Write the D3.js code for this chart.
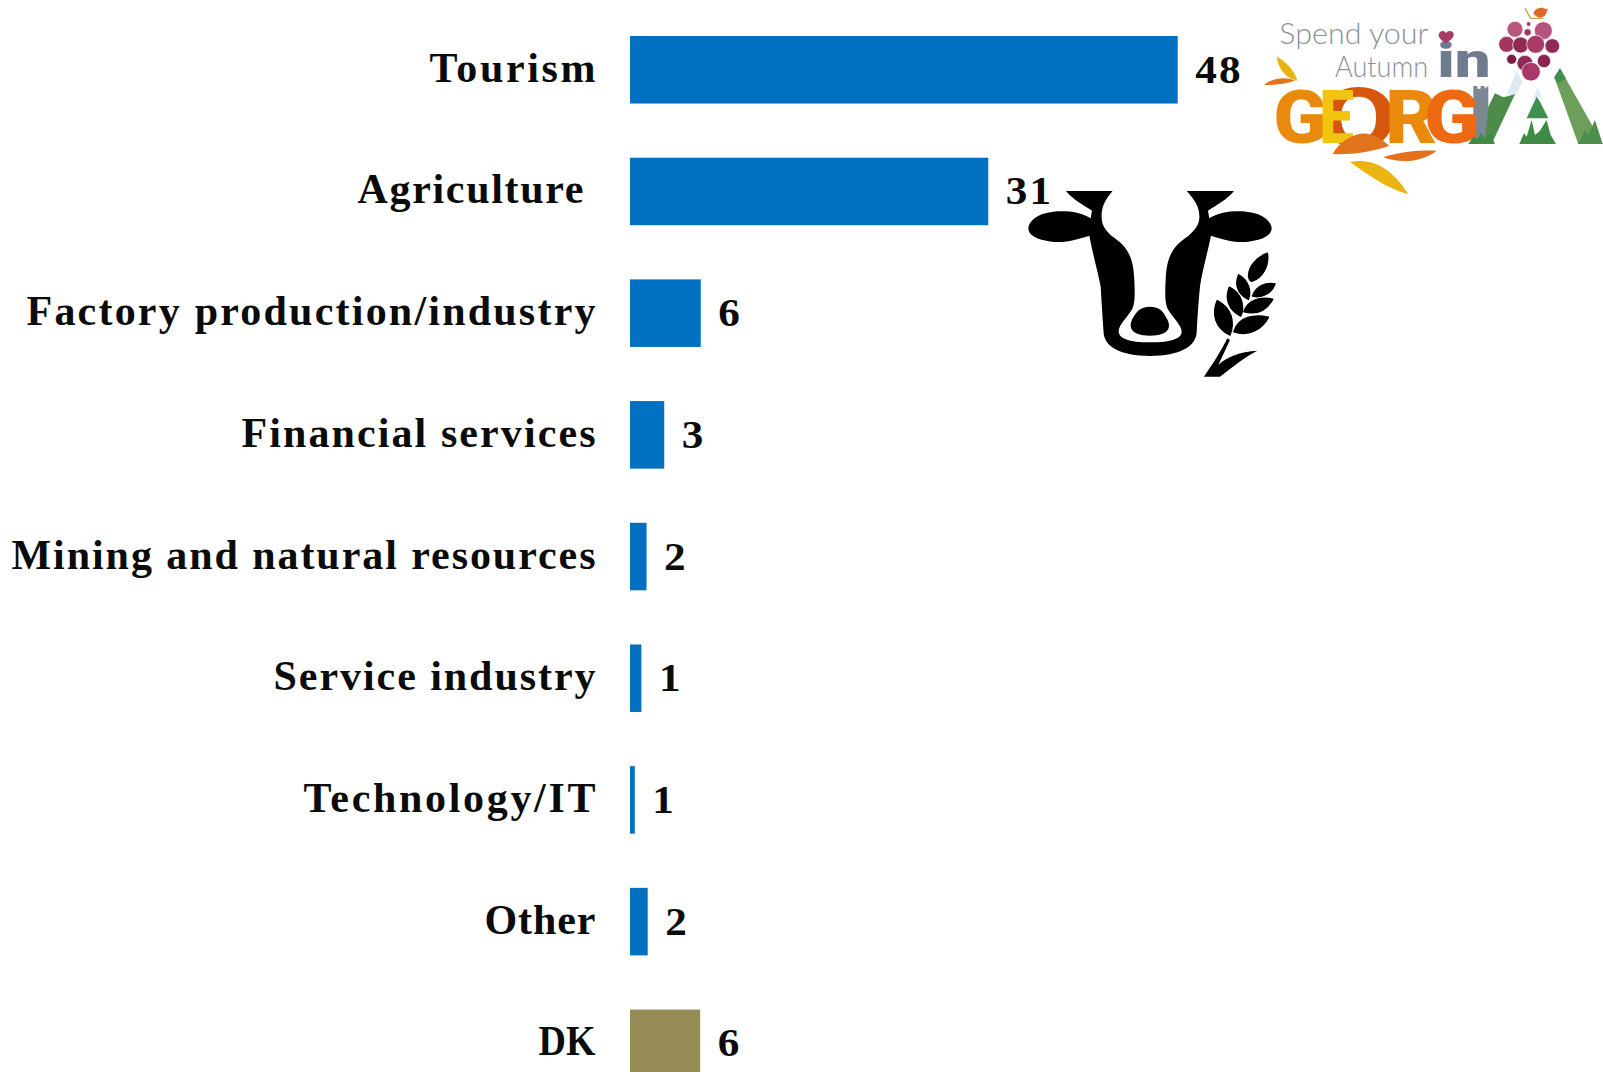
<!DOCTYPE html>
<html><head><meta charset="utf-8">
<style>html,body{margin:0;padding:0;background:#fff;overflow:hidden}svg{display:block}
.cat text,.val{font-family:"Liberation Serif",serif;font-weight:700;fill:#0b0b0b;font-size:40px;white-space:pre}
.cat text{font-size:42px}
.val{letter-spacing:2px}
</style>
<script src="https://cdn.jsdelivr.net/npm/d3@7/dist/d3.min.js"></script>
</head><body><svg id="c" width="1603" height="1072"></svg>
<script>
const categories=["Tourism","Agriculture ","Factory production/industry","Financial services","Mining and natural resources","Service industry","Technology/IT","Other","DK"];
const barValues=[48,31.4,6.2,3,1.45,1,0.42,1.55,6.15];
const valueLabels=["48","31","6","3","2","1","1","2","6"];
const barColors=["#0070c0","#0070c0","#0070c0","#0070c0","#0070c0","#0070c0","#0070c0","#0070c0","#958b55"];
const labelWidths=[166,238,569,354,584,322,292,111,57];

const svg=d3.select("#c");
const x=d3.scaleLinear().domain([0,48]).range([630,1177.7]);
const y=d3.scaleBand().domain(categories).range([36,36+8*121.7+67.5]).paddingInner(0.445).paddingOuter(0);

svg.selectAll("rect.bar").data(categories).join("rect").attr("class","bar")
 .attr("x",x(0)).attr("y",d=>y(d)).attr("height",y.bandwidth())
 .attr("width",(d,i)=>x(barValues[i])-x(0)).attr("fill",(d,i)=>barColors[i]);

const ax=svg.append("g").attr("class","cat").attr("transform","translate(595.5,0)")
 .call(d3.axisLeft(y).tickSize(0).tickPadding(0));
ax.select(".domain").remove();
ax.selectAll("text").attr("dy",null).attr("y",12).attr("x",0)
 .each(function(d,i){
   const natural=this.getComputedTextLength();
   d3.select(this).attr("textLength",labelWidths[i])
     .attr("lengthAdjust",natural>labelWidths[i]?"spacingAndGlyphs":"spacing");
 });

svg.selectAll("text.val").data(categories).join("text").attr("class","val")
 .attr("transform",(d,i)=>`translate(${x(barValues[i])+17.5},${y(d)+y.bandwidth()/2+13}) scale(1.08,1)`)
 .text((d,i)=>valueLabels[i]);

/* cow + wheat icon */
const cow=svg.append("g").attr("transform","translate(1000,170) scale(0.3333)");
cow.append("path").attr("fill","#000").attr("d","M198,63 L338,63 C315,90 303,112 305,145 C306,165 315,180 335,198 C375,225 400,250 403,330 C405,375 405,395 398,415 C385,440 355,465 356,485 C358,505 385,517 450,517 C515,517 545,505 545,485 C545,465 515,440 502,415 C495,395 495,375 497,330 C500,250 525,225 565,198 C585,180 597,165 598,145 C600,112 585,90 560,63 L702,63 C680,90 650,105 624,122 L628,145 C660,125 700,122 740,125 C790,130 815,155 815,175 C815,195 790,210 745,215 C700,220 660,205 633,197 C620,260 605,310 600,350 C595,400 592,450 590,490 C585,530 540,558 450,558 C360,558 315,530 311,490 C308,450 305,400 302,350 C295,310 280,260 268,197 C240,205 200,220 155,215 C110,210 85,195 85,175 C85,155 110,130 160,125 C200,122 240,125 272,145 L276,122 C250,105 220,90 198,63 Z");
cow.append("path").attr("fill","#000").attr("d","M450,410 C480,410 490,425 500,445 C515,470 510,497 450,497 C390,497 385,470 398,445 C410,425 420,410 450,410 Z");
["M802,250 C770,262 745,290 746,320 C748,330 752,335 757,333 C785,325 808,290 802,250Z",
 "M825,342 C795,337 768,350 758,378 C785,385 815,370 825,342Z",
 "M818,388 C780,380 745,390 732,425 C770,435 800,420 818,388Z",
 "M805,442 C765,432 715,440 702,485 C745,500 785,480 805,442Z",
 "M716,315 C705,340 710,370 745,388 C755,365 745,330 716,315Z",
 "M688,352 C675,385 685,420 722,438 C735,410 725,370 688,352Z",
 "M652,392 C635,430 645,475 690,495 C705,455 695,415 652,392Z"
].forEach(p=>cow.append("path").attr("fill","#000").attr("stroke","#000").attr("stroke-width",5).attr("stroke-linejoin","round").attr("d",p));
cow.append("path").attr("fill","#000").attr("d","M682,505 L690,510 L655,585 C680,560 720,545 772,542 C735,560 700,590 660,620 L612,620 C640,580 665,540 682,505Z");

/* autumn logo */
const g=svg.append("g").attr("transform","translate(1240,0) scale(0.3333)");
const P=(d,f)=>g.append("path").attr("d",d).attr("fill",f);
const T=(s,xx,yy,len,fs,f,w,fam)=>g.append("text").attr("x",xx).attr("y",yy).attr("textLength",len).attr("lengthAdjust","spacingAndGlyphs")
  .attr("font-family",fam||"Lato").attr("font-size",fs).attr("font-weight",w).attr("fill",f).text(s);
T("Spend your",118,133,447,88,"#8b9199",300);
T("Autumn",285,232,280,88,"#8b9199",300);
T("in",592,231,160,145,"#6f7b8f",900,"Roboto");
P("M618,130 C600,118 592,108 598,98 C605,90 615,92 618,100 C622,92 634,90 640,98 C645,108 636,118 618,130Z","#a83a66");
/* small leaves */
P("M110,170 C140,185 165,215 172,242 C140,235 115,210 110,170Z","#e9b30f");
P("M72,255 C95,235 135,228 165,242 C135,252 105,255 72,255Z","#e5741a");
/* tower */
P("M700,258 L712,258 L712,266 L722,266 L722,258 L734,258 L734,266 L745,258 L745,432 L700,432 Z","#7b8794");
/* GEORG */
T("G",100,430,162,225,"#e98a0d",900,"Roboto");
T("O",240,442,232,250,"#d6560c",700,"Roboto");
T("E",238,430,104,225,"#f2c40f",900,"Roboto");
T("R",436,430,156,225,"#e98a0d",900,"Roboto");
T("G",552,430,168,225,"#ee6a12",900,"Roboto");
/* bottom leaves */
P("M278,462 C300,420 350,395 385,402 C410,408 435,425 447,437 C400,455 330,465 278,462Z","#e2741b");
P("M430,472 C480,455 540,450 590,452 C555,480 490,495 430,472Z","#e5701a");
P("M330,486 C390,475 450,495 505,583 C440,565 385,525 330,486Z","#ebb50f");
/* mountains */
P("M800,284 L830,215 L848,245 L826,286 Z","#dde9f3");
P("M745,320 L765,280 L790,292 L825,283 L755,432 L735,432 Z","#4c8c48");
P("M943,232 L960,205 L1088,432 L1015,432 Z","#6c9f5a");
P("M943,232 L960,205 L978,236 L952,250 Z","#3f8f4f");
P("M880,295 L893,262 L905,290 Z","#dde9f3");
P("M860,355 L890,290 L900,305 L925,355 Z","#3f8f4f");
P("M838,432 L852,400 L860,410 L875,360 L885,405 L900,392 L920,360 L932,405 L948,432 Z","#3f8a45");
P("M1015,432 L1035,390 L1045,405 L1065,360 L1088,432 Z","#4d8f4a");
P("M685,432 L700,410 L712,418 L722,400 L735,415 L750,400 L765,432 Z","#3f8a45");
/* grapes */
[[825,88,24,"#b8587f"],[910,92,27,"#b5557f"],[800,133,24,"#a3335f"],[842,135,24,"#8f2852"],[887,133,27,"#a83a66"],[937,138,22,"#8e2a55"],[815,178,15,"#7a1c45"],[855,190,24,"#8e2a55"],[912,183,20,"#8a2450"],[873,215,28,"#a8376a"],[863,97,11,"#9c3a65"],[866,72,7,"#a0406a"]]
 .forEach(c=>g.append("circle").attr("cx",c[0]).attr("cy",c[1]).attr("r",c[2]).attr("fill",c[3]).attr("stroke","#fff").attr("stroke-width",2));
/* bird */
P("M880,40 C885,25 905,18 918,28 L924,25 L918,42 C912,55 892,58 880,40Z","#dd6a2a");
g.append("path").attr("d","M855,25 L872,55 L910,55").attr("fill","none").attr("stroke","#c9a24a").attr("stroke-width",4);
</script></body></html>
